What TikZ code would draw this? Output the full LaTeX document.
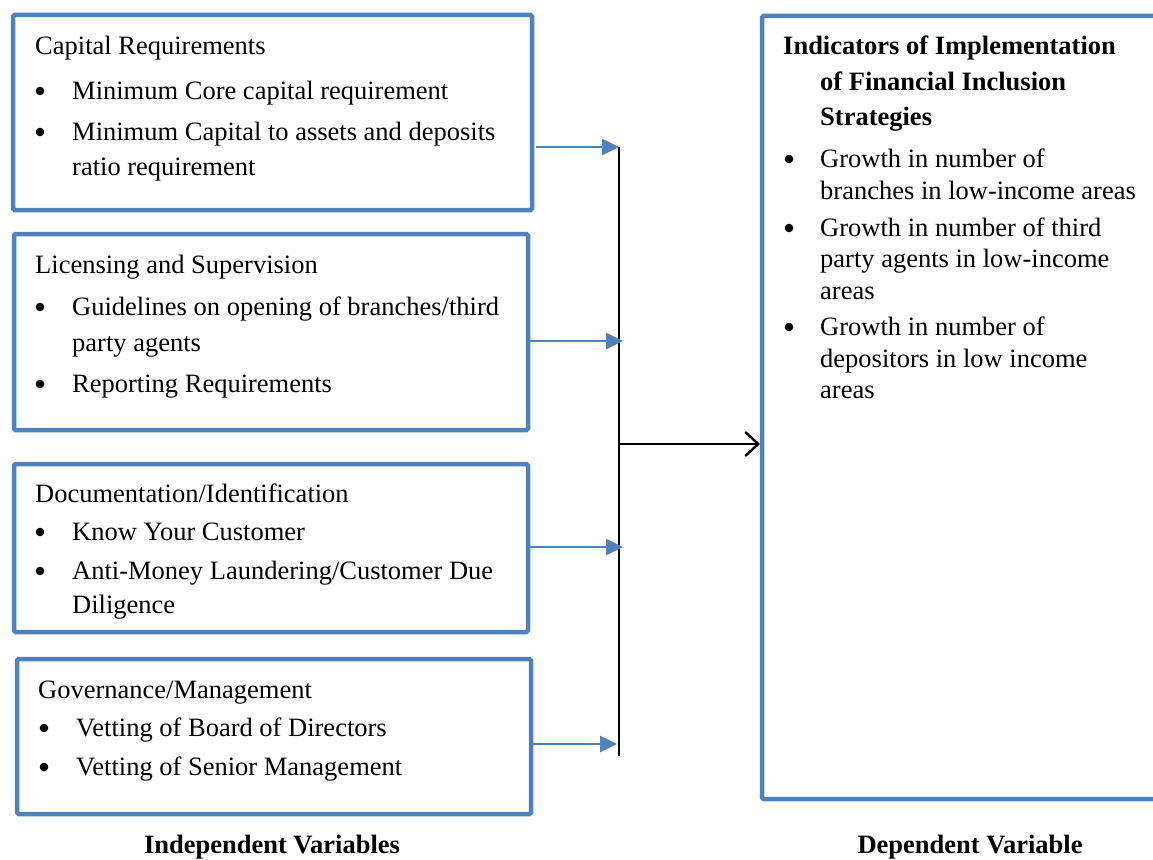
\documentclass[tikz,border=0pt]{standalone}
\usepackage{fontspec}
\setmainfont{Liberation Serif}
\usetikzlibrary{arrows.meta,calc}
\definecolor{frameblue}{RGB}{79,129,189}
\begin{document}
\begin{tikzpicture}[x=1pt,y=-1pt,
  framebox/.style={draw=frameblue,line width=4.5pt,rounded corners=1.5pt,inner sep=0pt,outer sep=0pt,anchor=north west},
  feed/.style={draw=frameblue,line width=2.6pt,-{Triangle[length=17pt,width=16pt]}},
  bus/.style={draw=black,line width=2pt},
  txt/.style={anchor=base west,inner sep=0pt,font=\fontsize{26.5}{31}\selectfont},
  head/.style={txt,font=\fontsize{26.5}{31}\selectfont\bfseries},
  dot/.style={fill=black}]
\useasboundingbox (0,0) rectangle (1153,859);

% independent variable boxes
\node[framebox,minimum width=519pt,minimum height=195pt] (b1) at (13,15) {};
\node[framebox,minimum width=514pt,minimum height=196pt] (b2) at (14,234) {};
\node[framebox,minimum width=514pt,minimum height=168pt] (b3) at (14,464) {};
\node[framebox,minimum width=514pt,minimum height=155pt] (b4) at (17,659) {};
% dependent variable box (runs past the right edge)
\node[framebox,minimum width=420pt,minimum height=783pt] (dv) at (762,16) {};

% box 1
\node[txt] (t1) at (35,55) {Capital Requirements};
\fill[dot] (40,91) circle (4.3pt);
\node[txt] (t1a) at (72,99) {Minimum Core capital requirement};
\fill[dot] (40,132) circle (4.3pt);
\node[txt] (t1b) at (72,140) {Minimum Capital to assets and deposits};
\node[txt] (t1c) at (72,175) {ratio requirement};

% box 2
\node[txt] (t2) at (35,273) {Licensing and Supervision};
\fill[dot] (40,307) circle (4.3pt);
\node[txt] (t2a) at (72,315) {Guidelines on opening of branches/third};
\node[txt] (t2b) at (72,351) {party agents};
\fill[dot] (40,384) circle (4.3pt);
\node[txt] (t2c) at (72,392) {Reporting Requirements};

% box 3
\node[txt] (t3) at (35,502) {Documentation/Identification};
\fill[dot] (40,532) circle (4.3pt);
\node[txt] (t3a) at (72,540) {Know Your Customer};
\fill[dot] (40,571) circle (4.3pt);
\node[txt] (t3b) at (72,579) {Anti-Money Laundering/Customer Due};
\node[txt] (t3c) at (72,613) {Diligence};

% box 4
\node[txt] (t4) at (38,698) {Governance/Management};
\fill[dot] (44,728) circle (4.3pt);
\node[txt] (t4a) at (76,736) {Vetting of Board of Directors};
\fill[dot] (44,767) circle (4.3pt);
\node[txt] (t4b) at (76,775) {Vetting of Senior Management};

% dependent variable box
\node[head] (h1) at (783,55) {Indicators of Implementation};
\node[head] (h2) at (820,90) {of Financial Inclusion};
\node[head] (h3) at (820,125) {Strategies};
\fill[dot] (789,159) circle (4.3pt);
\node[txt] (r1a) at (820,167) {Growth in number of};
\node[txt] (r1b) at (820,199) {branches in low-income areas};
\fill[dot] (789,228) circle (4.3pt);
\node[txt] (r2a) at (820,236) {Growth in number of third};
\node[txt] (r2b) at (820,267) {party agents in low-income};
\node[txt] (r2c) at (820,299) {areas};
\fill[dot] (789,327) circle (4.3pt);
\node[txt] (r3a) at (820,335) {Growth in number of};
\node[txt] (r3b) at (820,367) {depositors in low income};
\node[txt] (r3c) at (820,398) {areas};

% captions
\node[head,anchor=base] (cap1) at (272,853) {Independent Variables};
\node[head,anchor=base] (cap2) at (970,853) {Dependent Variable};

% collecting line and connectors
\coordinate (bustop) at (619,147);
\coordinate (busbot) at (619,756);
\coordinate (j1) at (619,147);
\coordinate (j2) at (623,341);
\coordinate (j3) at (623,547);
\coordinate (j4) at (617,744);
\coordinate (jout) at (619,444);
\draw[bus] (bustop) -- (busbot);
\draw[feed] ($(b1.east |- j1)+(4,0)$) -- (j1);
\draw[feed] (b2.east |- j2) -- (j2);
\draw[feed] (b3.east |- j3) -- (j3);
\draw[feed] (b4.east |- j4) -- (j4);
\draw[bus,-{Straight Barb[length=13pt,width=24pt,line width=2.4pt]}] (jout) -- ($(dv.west |- jout)+(-2,0)$);
\end{tikzpicture}
\end{document}
